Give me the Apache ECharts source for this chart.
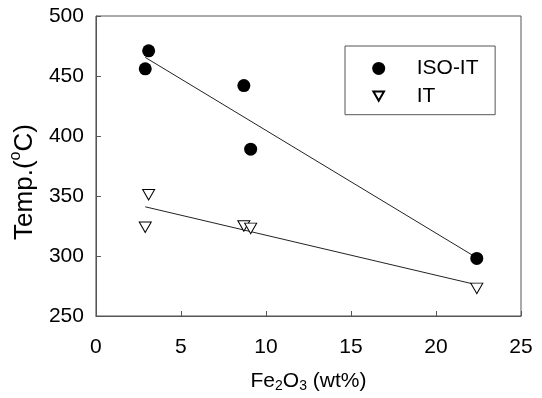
<!DOCTYPE html>
<html>
<head>
<meta charset="utf-8">
<script src="https://cdn.jsdelivr.net/npm/echarts@6/dist/echarts.min.js"></script>
<style>html,body{margin:0;padding:0;background:#fff}#c{width:542px;height:398px}</style>
</head>
<body>
<div id="c"></div>
<script>
const isoX = [2.9, 3.1, 8.7, 9.1, 22.4];
const isoY = [456, 471, 442, 389, 298];
const itX = [2.9, 3.1, 8.7, 9.1, 22.4];
const itY = [324, 351, 325, 323, 273];
const isoFitX = [2.9, 22.4];
const isoFitY = [465.5, 298.5];
const itFitX = [2.9, 22.4];
const itFitY = [341, 276];
const xTicks = [0, 5, 10, 15, 20, 25];
const yTicks = [250, 300, 350, 400, 450, 500];

const zip = (a, b) => a.map((v, i) => [v, b[i]]);
const font = 'Liberation Sans, Arial, sans-serif';
const axisCol = '#555';

const chart = echarts.init(document.getElementById('c'));
chart.setOption({
  animation: false,
  grid: { left: 92, top: 16, right: 21, bottom: 73, show: true, borderColor: axisCol, borderWidth: 1, backgroundColor: 'transparent' },
  xAxis: {
    type: 'value', min: xTicks[0], max: xTicks[xTicks.length - 1], interval: 5,
    axisLine: { lineStyle: { color: axisCol } },
    axisTick: { inside: true, length: 5, lineStyle: { color: axisCol } },
    axisLabel: { color: '#000', fontSize: 21, fontFamily: font, margin: 21 },
    splitLine: { show: false },
    name: '{n|Fe}{s|2}{n|O}{s|3}{n| (wt%)}',
    nameLocation: 'middle', nameGap: 52,
    nameTextStyle: {
      fontFamily: font, color: '#000',
      rich: {
        n: { fontSize: 21, fontFamily: font, color: '#000', verticalAlign: 'bottom', lineHeight: 24 },
        s: { fontSize: 14, fontFamily: font, color: '#000', verticalAlign: 'bottom', lineHeight: 24, padding: [0, 0, -1, 0] }
      }
    }
  },
  yAxis: {
    type: 'value', min: yTicks[0], max: yTicks[yTicks.length - 1], interval: 50,
    axisLine: { show: true, lineStyle: { color: axisCol } },
    axisTick: { show: true, inside: true, length: 5, lineStyle: { color: axisCol } },
    axisLabel: { color: '#000', fontSize: 21, fontFamily: font, margin: 12 },
    splitLine: { show: false },
    name: '{n|Temp.(}{s|o}{n|C)}',
    nameLocation: 'middle', nameGap: 50,
    nameTextStyle: {
      fontFamily: font, color: '#000', padding: [0, 32, 0, 0],
      rich: {
        n: { fontSize: 26, fontFamily: font, color: '#000', verticalAlign: 'bottom', lineHeight: 30 },
        s: { fontSize: 16, fontFamily: font, color: '#000', verticalAlign: 'top', lineHeight: 16 }
      }
    }
  },
  legend: {
    data: [
      { name: 'ISO-IT', icon: 'circle' },
      { name: 'IT', icon: 'path://M0,0L0.01,0M13,13L13.01,13M1.2,2L11.8,2L6.5,11.2Z' }
    ],
    orient: 'vertical', left: 345, top: 46,
    itemWidth: 66, itemHeight: 13, itemGap: 6.6,
    symbolRotate: 0,
    padding: [11.9, 16.6, 8.2, 26.2],
    borderColor: axisCol, borderWidth: 1,
    textStyle: { fontSize: 21, fontFamily: font, color: '#000' },
    selectedMode: false
  },
  series: [
    {
      type: 'line', data: zip(isoFitX, isoFitY), symbol: 'none', silent: true,
      lineStyle: { color: '#222', width: 1 }, z: 1
    },
    {
      type: 'line', data: zip(itFitX, itFitY), symbol: 'none', silent: true,
      lineStyle: { color: '#222', width: 1 }, z: 1
    },
    {
      name: 'ISO-IT', type: 'scatter', data: zip(isoX, isoY),
      symbol: 'circle', symbolSize: 13,
      itemStyle: { color: '#000', opacity: 1 }, z: 3
    },
    {
      name: 'IT', type: 'scatter', data: zip(itX, itY),
      symbol: 'triangle', symbolRotate: 180, symbolSize: [12, 10.5],
      itemStyle: { color: '#fff', borderColor: '#000', borderWidth: 1, opacity: 1 }, z: 3
    }
  ]
});
</script>
</body>
</html>
